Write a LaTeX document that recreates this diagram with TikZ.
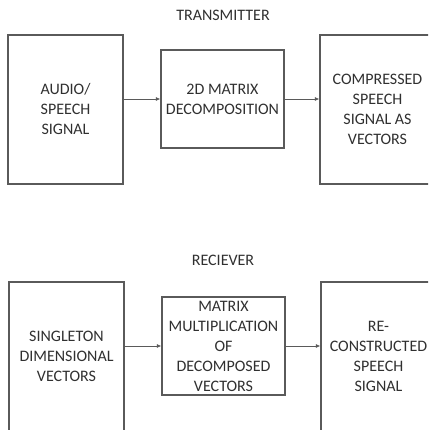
\documentclass[tikz,border=0pt]{standalone}
\usepackage{fontspec}
\setmainfont{Carlito}
\usepackage{xcolor}
\usepackage{tikz}
\usetikzlibrary{arrows.meta, positioning}
\definecolor{edgegray}{HTML}{5A5A5A}
\definecolor{textgray}{HTML}{303030}
\tikzstyle{tallbox} = [rectangle, minimum width=115pt, minimum height=149pt,
                       inner sep=0pt, align=center, draw=edgegray,
                       line width=1.3pt, text=textgray,
                       font=\fontsize{16}{20}\selectfont]
\tikzstyle{midbox}  = [rectangle, minimum width=123pt, minimum height=98pt,
                       inner sep=0pt, align=center, draw=edgegray,
                       line width=1.3pt, text=textgray,
                       font=\fontsize{16}{20}\selectfont]
\tikzstyle{title}   = [text=textgray, font=\fontsize{16}{20}\selectfont]
\tikzstyle{arrow}   = [draw=edgegray, line width=0.7pt, -{Latex[length=4.5pt,width=4pt]}]
\begin{document}
\begin{tikzpicture}[x=1pt, y=-1pt]
    \useasboundingbox (0,0) rectangle (428,430);
    \fill[white] (0,0) rectangle (428,430);
    \clip (0,0) rectangle (428,430);

    % transmitter side
    \node (tx)  [title]   at (223,15)      {TRANSMITTER};
    \node (txa) [tallbox] at (65.5,109.5)  {AUDIO/\\SPEECH\\SIGNAL};
    \node (txb) [midbox]  at (222.5,99)    {2D MATRIX\\DECOMPOSITION};
    \node (txc) [tallbox] at (377.5,109.5) {COMPRESSED\\SPEECH\\SIGNAL AS\\VECTORS};

    % receiver side
    \node (rx)  [title]   at (223,260)     {RECIEVER};
    \node (rxa) [tallbox] at (66.5,356.5)  {SINGLETON\\DIMENSIONAL\\VECTORS};
    \node (rxb) [midbox]  at (223.5,346)   {MATRIX\\MULTIPLICATION\\OF\\DECOMPOSED\\VECTORS};
    \node (rxc) [tallbox] at (378.5,356.5) {RE-\\CONSTRUCTED\\SPEECH\\SIGNAL};

    \draw [arrow] (txa.east |- txb.west) -- (txb.west);
    \draw [arrow] (txb.east) -- (txc.west |- txb.east);
    \draw [arrow] (rxa.east |- rxb.west) -- (rxb.west);
    \draw [arrow] (rxb.east) -- (rxc.west |- rxb.east);
\end{tikzpicture}
\end{document}
